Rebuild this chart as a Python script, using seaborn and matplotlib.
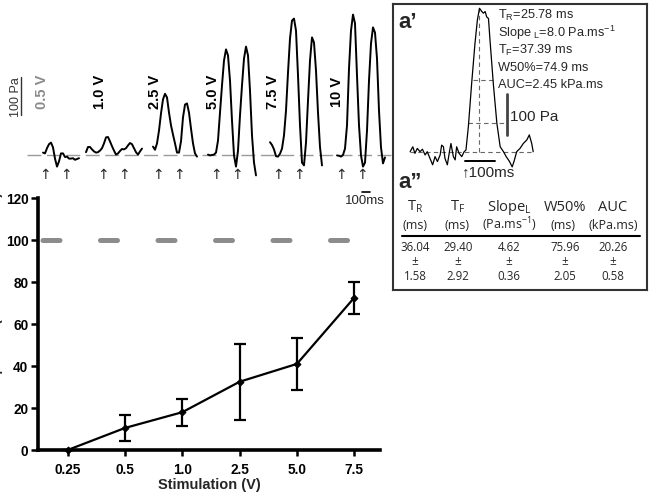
import numpy as np
import pandas as pd
import matplotlib
matplotlib.use("Agg")
import matplotlib.pyplot as plt
from matplotlib.lines import Line2D
import seaborn as sns

# ------------------------------------------------------------------ data
stim_labels = ["0.25", "0.5", "1.0", "2.5", "5.0", "7.5"]
amp_mean = [0.0, 10.5, 18.0, 32.5, 41.0, 72.5]
amp_err = [0.0, 6.3, 6.5, 18.0, 12.2, 7.6]
reference_level = 100
y_ticks = [0, 20, 40, 60, 80, 100, 120]

trace_labels = ["0.5 V", "1.0 V", "2.5 V", "5.0 V", "7.5 V", "10 V"]
trace_05 = [6, 4, 17, 27, 31, 19, -9, -29, -16, 4, 4, -5, -4, -9, -9, -8, -12, -10, -8]
trace_10 = [7, 20, 20, 14, 9, 6, 7, 11, 17, 29, 44, 45, 34, 22, 11, 1, 4, 10, 15,
            14, 17, 24, 30, 27, 17, 7, 1, 9, 16]
trace_25 = [21, 13, 29, 61, 104, 139, 153, 144, 106, 74, 51, 29, 6, 6, 34, 94, 126,
            129, 106, 66, 29, 4, -4]
trace_50 = [1, -1, 0, 1, 6, 36, 106, 174, 236, 264, 249, 186, 86, -1, -29, 11, 99,
            174, 241, 271, 249, 161, 49, -19, -51]
trace_75 = [32, 25, 14, -3, -4, 3, 16, 49, 111, 206, 291, 336, 341, 311, 199, 74,
            -19, -26, 31, 136, 236, 294, 281, 211, 106, 20, -26]
trace_100 = [-1, -2, -4, 0, 16, 74, 216, 311, 351, 329, 199, 74, -1, -29, -19, 61,
             186, 279, 319, 306, 241, 111, 19, -21, -6]
traces = [trace_05, trace_10, trace_25, trace_50, trace_75, trace_100]
sample_ms = 25.0

# single response (inset a')
single_t = [-183, -174, -167, -159, -150, -142, -133, -126, -117, -108, -100, -92,
            -83, -78, -72, -67, -59, -52, -47, -39, -33, -28, -20, -11, -3, 3, 11,
            22, 33, 41, 48, 56, 61, 67, 72, 78, 83, 94, 106, 117, 128, 137, 148,
            157, 163, 172, 183, 194, 206, 214, 222, 227]
single_p = [0, 12, -4, 8, 0, 6, -8, 0, -16, -32, -12, -24, -8, 16, 12, -16, -32, 0,
            20, -12, -20, 12, -4, -12, 0, 4, 61, 167, 264, 321, 350, 342, 338, 342,
            329, 325, 273, 167, 69, 12, 0, -12, -24, -37, -24, 0, 8, 20, 29, 41, 20, 0]
inset_params = ["T$_\\mathregular{R}$=25.78 ms",
                "Slope$_\\mathregular{\\ L}$=8.0 Pa.ms$^\\mathregular{-1}$",
                "T$_\\mathregular{F}$=37.39 ms",
                "W50%=74.9 ms",
                "AUC=2.45 kPa.ms"]

# summary table (a'')
table_headers = ["T$_\\mathregular{R}$", "T$_\\mathregular{F}$",
                 "Slope$_\\mathregular{L}$", "W50%", "AUC"]
table_units = ["(ms)", "(ms)", "(Pa.ms$^\\mathregular{-1}$)", "(ms)", "(kPa.ms)"]
table_means = ["36.04", "29.40", "4.62", "75.96", "20.26"]
table_sems = ["1.58", "2.92", "0.36", "2.05", "0.58"]

# ------------------------------------------------------------------ style
sns.set_theme(style="ticks")
plt.rcParams["font.family"] = ["Liberation Sans", "DejaVu Sans"]
plt.rcParams["mathtext.default"] = "regular"

W, H = 650, 494
fig = plt.figure(figsize=(6.5, 4.94), dpi=100)


def fx(px):
    return px / W


def fy(py):
    return 1 - py / H


# ------------------------------------------------------------------ main chart
ax = fig.add_axes([fx(38), fy(450), fx(380) - fx(38), fy(198) - fy(450)])
pos = np.arange(len(stim_labels))
df = pd.DataFrame({"pos": pos, "amp": amp_mean})
ax.axhline(reference_level, color="#8c8c8c", lw=3.6,
           linestyle=(10.6, (3.4, 8.1)), solid_capstyle="round",
           dash_capstyle="round", zorder=1)
ax.errorbar(pos, amp_mean, yerr=amp_err, fmt="none", ecolor="black",
            elinewidth=1.6, capsize=4.5, capthick=1.6, zorder=3, clip_on=False)
sns.lineplot(data=df, x="pos", y="amp", ax=ax, color="black", lw=1.6,
             marker="D", markersize=3.5, markeredgecolor="black", zorder=4,
             clip_on=False)
ax.set_xlim(-0.518, 5.45)
ax.set_ylim(0, 120)
ax.set_xticks(pos)
ax.set_xticklabels(stim_labels)
ax.set_yticks(y_ticks)
ax.set_xlabel("Stimulation (V)", fontsize=10.5, fontweight="bold", labelpad=1)
ax.set_ylabel("")
for lab in ax.get_xticklabels() + ax.get_yticklabels():
    lab.set_fontweight("bold")
ax.tick_params(axis="both", width=1.8, length=5, labelsize=9.8, color="black",
               labelcolor="black")
ax.tick_params(axis="x", length=4, pad=5)
ax.tick_params(axis="y", pad=2)
for s in ["left", "bottom"]:
    ax.spines[s].set_linewidth(2.6)
    ax.spines[s].set_color("black")
sns.despine(ax=ax)
ax.patch.set_alpha(0)
fig.text(fx(3.5), fy(320), "% Peak Amplitude (normalized to 10 V)", rotation=90,
         ha="right", va="center", fontsize=10, fontweight="bold")

# ------------------------------------------------------------------ traces strip
ms_per_px = 12.5
axt = fig.add_axes([0, fy(205), fx(393), fy(0) - fy(205)])
axt.set_xlim(0, 393 * ms_per_px)
axt.set_ylim((155 - 205) * 2.5, 155 * 2.5)
axt.axis("off")
axt.plot([27 * ms_per_px, 393 * ms_per_px], [0, 0], color="#9a9a9a", lw=1.0,
         linestyle=(0, (10, 4)), zorder=1)
trace_starts_px = [43, 86, 153, 208, 270, 337]
label_px = [42, 100, 155, 213, 273, 337]
for i, tr in enumerate(traces):
    tt = trace_starts_px[i] * ms_per_px + np.arange(len(tr)) * sample_ms
    sns.lineplot(x=tt, y=tr, ax=axt, color="black", lw=1.4, zorder=3)
    axt.text(label_px[i] * ms_per_px, 157, trace_labels[i], rotation=90,
             ha="center", va="center", fontsize=10.5, fontweight="bold",
             color="#8a8a8a" if i == 0 else "black")
arrow_px = [45, 66, 103, 124, 158, 179, 216, 237, 278, 299, 341, 362]
for a in arrow_px:
    axt.text(a * ms_per_px, -50, "↑", ha="center", va="center", fontsize=10,
             family="DejaVu Sans")
# scale bars
axt.plot([20.7 * ms_per_px] * 2, [100, 196], color="#333333", lw=1.0)
axt.text(16 * ms_per_px, 146, "100 Pa", rotation=90, ha="center", va="center",
         fontsize=9, color="#333333")
axt.plot([362 * ms_per_px, 362 * ms_per_px + 100], [-92, -92], color="black", lw=1.2)
axt.text(365 * ms_per_px, -115, "100ms", ha="center", va="center", fontsize=9.5)

# ------------------------------------------------------------------ inset box a'
axi = fig.add_axes([fx(393), fy(290), fx(647) - fx(393), fy(4) - fy(290)])
axi.set_xlim(-240, 606)
axi.set_ylim(-337.5, 360.4)
axi.set_xticks([])
axi.set_yticks([])
for s in axi.spines.values():
    s.set_linewidth(1.5)
    s.set_color("#333333")
    s.set_visible(True)
axi.set_facecolor("white")
guide = dict(color="#666666", lw=0.8, linestyle=(0, (4, 3)), zorder=1)
axi.plot([single_t[0], single_t[-1]], [0, 0], **guide)
axi.plot([48, 48], [0, 350], **guide)
axi.plot([28, 103], [175, 175], **guide)
axi.plot([11, 133], [70, 70], **guide)
sns.lineplot(x=single_t, y=single_p, ax=axi, color="black", lw=0.9, zorder=3,
             sort=False, estimator=None)
axi.plot([141, 141], [40.7, 140.7], color="#444444", lw=2.0)
axi.text(150, 85, "100 Pa", ha="left", va="center", fontsize=11)
axi.plot([0, 100], [-22, -22], color="black", lw=1.4)
axi.text(-10, -50, "↑100ms", ha="left", va="center", fontsize=11,
         family=["Liberation Sans", "DejaVu Sans"])
axi.set_xlabel("")
axi.set_ylabel("")

fig.text(fx(398), fy(22), "a’", fontsize=16, fontweight="bold", ha="left",
         va="center")
fig.text(fx(398), fy(183), "a”", fontsize=16, fontweight="bold", ha="left",
         va="center")
param_base_px = [19, 37, 54, 71, 88]
for s, yb in zip(inset_params, param_base_px):
    fig.text(fx(498), fy(yb), s, fontsize=9.2, ha="left", va="baseline")

# table
col_px = [415, 458, 509, 565, 613]
unit_px = [415, 457, 509, 563, 613]
tfont = ["Open Sans", "DejaVu Sans"]
for i in range(5):
    fig.text(fx(col_px[i]), fy(207), table_headers[i], fontsize=10.5, ha="center",
             va="center", family=tfont)
    fig.text(fx(unit_px[i]), fy(225), table_units[i], fontsize=9, ha="center",
             va="center", family=tfont)
    fig.text(fx(col_px[i]), fy(247), table_means[i], fontsize=8.3, ha="center",
             va="center", family=tfont)
    fig.text(fx(col_px[i]), fy(261), "±", fontsize=8.5, ha="center", va="center",
             family=tfont)
    fig.text(fx(col_px[i]), fy(276), table_sems[i], fontsize=8.3, ha="center",
             va="center", family=tfont)
fig.add_artist(Line2D([fx(402), fx(640)], [fy(236), fy(236)], color="black", lw=1.5))

fig.savefig("out.png", dpi=100)
